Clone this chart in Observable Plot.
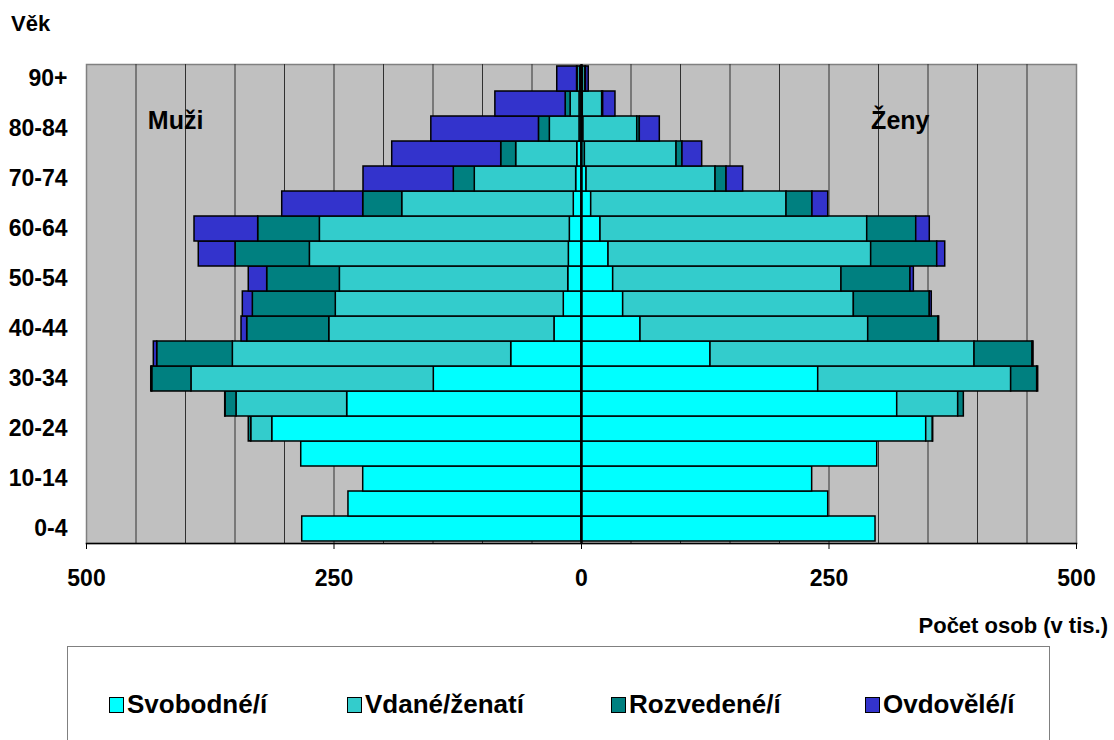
<!DOCTYPE html>
<html><head><meta charset="utf-8">
<script src="https://cdn.jsdelivr.net/npm/d3@7"></script>
<script src="https://cdn.jsdelivr.net/npm/@observablehq/plot@0.6"></script>
<style>
body{margin:0;background:#fff;font-family:"Liberation Sans",Arial,sans-serif;font-weight:bold;color:#000;}
#wrap{position:relative;width:1114px;height:740px;overflow:hidden;background:#fff;}
#chart{position:absolute;left:0;top:0;}
#chart svg text{font-family:"Liberation Sans",Arial,sans-serif;font-weight:bold;}
.lbl{position:absolute;white-space:nowrap;line-height:1;}
#legend{position:absolute;left:67px;top:646px;width:983px;height:120px;border:1.5px solid #808080;box-sizing:border-box;}
.item{position:absolute;top:42px;display:flex;align-items:center;font-size:26px;}
.sw{width:13px;height:14px;border:1.5px solid #000;margin-right:3px;box-sizing:content-box;}
</style></head>
<body><div id="wrap"><div id="chart"></div></div>
<script>
// Age groups, bottom (youngest) to top (oldest)
const ages = ["0-4","5-9","10-14","15-19","20-24","25-29","30-34","35-39","40-44","45-49","50-54","55-59","60-64","65-69","70-74","75-79","80-84","85-89","90+"];
const tickAges = ["0-4","10-14","20-24","30-34","40-44","50-54","60-64","70-74","80-84","90+"];
const statuses = ["Svobodné/í","Vdané/ženatí","Rozvedené/í","Ovdovělé/í"];
const statusColors = ["#00FFFF","#33CCCC","#008080","#3333CC"];
const xTicks = [-500,-250,0,250,500];

// Muži (thousands)
const menSingle   = [282.1,235.4,220.5,283.1,312.4,236.7,149.2,71,27.3,17.9,13.4,12.8,11.8,7.8,5.4,4.3,2,2,1.5];
const menMarried  = [0,0,0,0,21.2,111.8,244.8,281.2,227.5,230.3,230.7,261.6,252.5,173.3,102.4,61.7,30,9,2.5];
const menDivorced = [0,0,0,0,2.5,11.1,39.6,76.4,82.9,83.8,73.4,75.1,62.3,39.4,21.2,15.1,11,5,0.5];
const menWidowed  = [0,0,0,0,0,0.3,1,3.4,5.7,10.1,18.6,37.1,64.3,81.8,91.2,110.1,108.7,71,20];
// Ženy (thousands)
const womenSingle   = [297,249.2,233,298.7,348.2,318.9,239.1,130.3,59.6,42.1,32,27.3,19.2,9.8,5.1,3.4,2,1.3,1.5];
const womenMarried  = [0,0,0,0,6.7,61.6,194.9,266.7,230,233,230.6,265.3,269.4,197.3,130.3,92.6,54.3,19.6,2.5];
const womenDivorced = [0,0,0,0,0.3,5.7,26.3,58.6,71,76.7,69.7,66.7,49.5,26.2,11.1,6,2.6,1,0.5];
const womenWidowed  = [0,0,0,0,0,0,1,1,0.7,2,3.4,8.1,13.7,15.9,16.8,19.9,20.2,12.4,2.8];

const sexLabels = [{text:"Muži", x:-410, age:"80-84"},{text:"Ženy", x:322, age:"80-84"}];

const menSeries = [menSingle, menMarried, menDivorced, menWidowed];
const womenSeries = [womenSingle, womenMarried, womenDivorced, womenWidowed];
const data = [];
ages.forEach((age, i) => {
  statuses.forEach((s, k) => {
    data.push({age, status: s, value: -menSeries[k][i]});
  });
  statuses.forEach((s, k) => {
    data.push({age, status: s, value: womenSeries[k][i]});
  });
});

const chart = Plot.plot({
  width: 1114,
  height: 640,
  marginLeft: 86,
  marginRight: 38,
  marginTop: 64,
  marginBottom: 97,
  style: {fontFamily: "'Liberation Sans', Arial, sans-serif", fontWeight: "bold", fontSize: "23px", background: "white", color: "black"},
  x: {domain: [-500, 500], label: null},
  y: {domain: ages.slice().reverse(), padding: 0, label: null},
  color: {domain: statuses, range: statusColors},
  marks: [
    Plot.frame({fill: "#C0C0C0", stroke: "#808080", strokeWidth: 1.5}),
    Plot.ruleX(d3.range(-450, 500, 50), {stroke: "#303030", strokeWidth: 1}),
    Plot.barX(data, {y: "age", x: "value", fill: "status", stroke: "black", strokeWidth: 1.5}),
    Plot.ruleX([0], {stroke: "black", strokeWidth: 2.5}),
    Plot.frame({anchor: "bottom", stroke: "black", strokeWidth: 1.5}),
    Plot.axisX(xTicks, {tickFormat: d => Math.abs(d), label: null, tickSize: 6, tickPadding: 20, fontSize: 23, fontWeight: "bold", stroke: "black", fill: "black"}),
    Plot.axisY(tickAges, {tickSize: 0, tickPadding: 19, label: null, fontSize: 23, fontWeight: "bold", fill: "black"}),
    Plot.text(sexLabels, {x: "x", y: "age", text: "text", fontSize: 25, fontWeight: "bold", dy: -8, fill: "black"})
  ]
});
document.getElementById("chart").appendChild(chart);

const wrap = document.getElementById("wrap");
function addLabel(text, css) {
  const d = document.createElement("div");
  d.className = "lbl";
  d.textContent = text;
  Object.assign(d.style, css);
  wrap.appendChild(d);
}
addLabel("Věk", {left: "11px", top: "13px", fontSize: "22px"});
addLabel("Počet osob (v tis.)", {right: "6px", top: "615px", fontSize: "22px"});

const legend = document.createElement("div");
legend.id = "legend";
wrap.appendChild(legend);
const itemLeft = [41, 279, 543, 797];
statuses.forEach((s, k) => {
  const it = document.createElement("div");
  it.className = "item";
  it.style.left = itemLeft[k] + "px";
  const sw = document.createElement("div");
  sw.className = "sw";
  sw.style.background = statusColors[k];
  const t = document.createElement("span");
  t.textContent = s;
  it.appendChild(sw); it.appendChild(t);
  legend.appendChild(it);
});
</script>
</body></html>
